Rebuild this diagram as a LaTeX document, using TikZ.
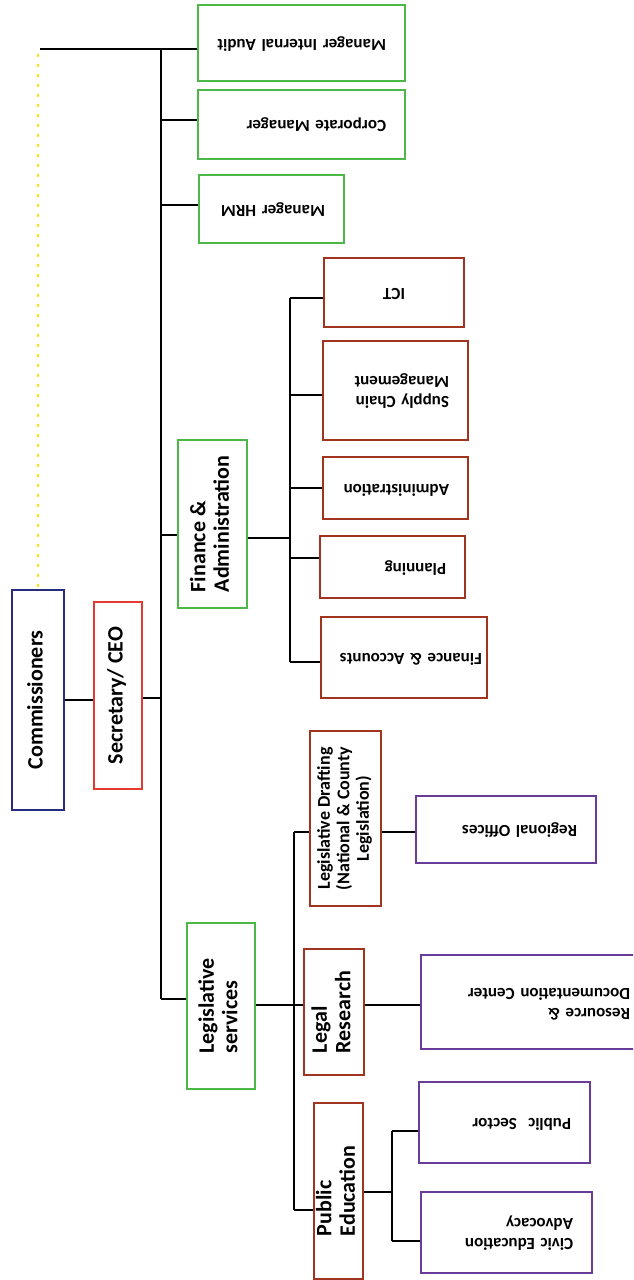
\documentclass[tikz,border=0pt]{standalone}
\usepackage{fontspec}
\setmainfont{Carlito}
\usepackage{graphicx}
\definecolor{cgreen}{RGB}{76,184,72}
\definecolor{cbrown}{RGB}{160,52,30}
\definecolor{cpurple}{RGB}{106,60,154}
\definecolor{cnavy}{RGB}{40,44,126}
\definecolor{cred}{RGB}{229,58,46}
\definecolor{cyellow}{RGB}{248,228,10}
\newcommand{\rtxt}[1]{\rotatebox{180}{\begin{tabular}{@{}l@{}}#1\end{tabular}}}
\newcommand{\ltxt}[1]{\rotatebox{90}{\begin{tabular}{@{}l@{}}#1\end{tabular}}}
\newcommand{\ctxt}[1]{\rotatebox{90}{\begin{tabular}{@{}c@{}}#1\end{tabular}}}
\tikzset{
  box/.style={draw, line width=1.8pt, fill=white, inner sep=0pt},
  lbox/.style={box, align=center, font=\bfseries\fontsize{22}{23.5}\selectfont},
  rbox/.style={box, inner xsep=19pt, align=right, font=\bfseries\fontsize{17}{20}\selectfont},
  conn/.style={line width=2pt, black},
}
\begin{document}
\begin{tikzpicture}[x=1pt,y=-1pt]
\useasboundingbox (0,0) rectangle (633,1280);
\clip (0,0) rectangle (633,1280);
\fill[white] (0,0) rectangle (633,1280);

% level 0/1
\node[lbox, draw=cnavy, minimum width=52pt, minimum height=220pt] (comm) at (38,700) {\ltxt{Commissioners}};
\node[lbox, draw=cred, minimum width=48pt, minimum height=187pt] (sec) at (118,695.5) {\ltxt{Secretary/ CEO}};

% top managers
\node[rbox, draw=cgreen, minimum width=207pt, minimum height=76pt, text width=169pt] (audit) at (301.5,43) {\rtxt{Manager Internal Audit}};
\node[rbox, draw=cgreen, minimum width=207pt, minimum height=69pt, text width=169pt] (corp) at (301.5,124.5) {\rtxt{Corporate Manager}};
\node[rbox, draw=cgreen, minimum width=145pt, minimum height=68pt, text width=107pt] (hrm) at (271.5,209) {\rtxt{Manager HRM}};

% finance & administration
\node[lbox, draw=cgreen, minimum width=69pt, minimum height=168pt] (fa) at (212.5,524) {\ltxt{Finance \&\\Administration}};
\node[rbox, draw=cbrown, minimum width=140pt, minimum height=69pt, text width=102pt, align=center] (ict) at (394,292.5) {\rtxt{ICT}};
\node[rbox, draw=cbrown, minimum width=145pt, minimum height=99pt, text width=107pt] (scm) at (395.5,390.5) {\rtxt{Supply Chain\\Management}};
\node[rbox, draw=cbrown, minimum width=145pt, minimum height=62pt, text width=107pt] (adm) at (395.5,488) {\rtxt{Administration}};
\node[rbox, draw=cbrown, minimum width=145pt, minimum height=62pt, text width=107pt] (plan) at (392.5,567) {\rtxt{Planning}};
\node[rbox, draw=cbrown, minimum width=166pt, minimum height=81pt, text width=128pt] (facc) at (404,657.5) {\rtxt{Finance \& Accounts}};

% legislative services
\node[lbox, draw=cgreen, minimum width=68pt, minimum height=166pt] (ls) at (221,1006) {\ltxt{Legislative\\services}};
\node[lbox, draw=cbrown, minimum width=71pt, minimum height=175pt, font=\bfseries\fontsize{18}{19.5}\selectfont] (ld) at (345.5,818.5) {\ctxt{Legislative Drafting\\(National \& County\\Legislation)}};
\node[lbox, draw=cbrown, minimum width=60pt, minimum height=126pt] (lr) at (334,1012) {\ltxt{Legal\\Research}};
\node[lbox, draw=cbrown, minimum width=49pt, minimum height=176pt] (pe) at (338.5,1191) {\ltxt{Public\\Education}};

\node[rbox, draw=cpurple, minimum width=180pt, minimum height=67pt, text width=142pt] (reg) at (506,829.5) {\rtxt{Regional Offices}};
\node[rbox, draw=cpurple, minimum width=228pt, minimum height=94pt, text width=190pt] (res) at (535,1002) {\rtxt{Resource \&\\Documentation Center}};
\node[rbox, draw=cpurple, minimum width=171pt, minimum height=81pt, text width=133pt] (ps) at (504.5,1122.5) {\rtxt{Public~~Sector}};
\node[rbox, draw=cpurple, minimum width=171pt, minimum height=81pt, text width=133pt] (civ) at (506.5,1232.5) {\rtxt{Civic Education\\Advocacy}};

% coordinates
\coordinate (ttop) at (161,49);
\coordinate (tbot) at (161,999);
\coordinate (ystart) at (40,49);
\coordinate (fav) at (290,0);
\coordinate (lsv) at (294,0);
\coordinate (pev) at (392,0);

% yellow dotted link
\draw[cyellow, line width=2.6pt, dash pattern=on 2.6pt off 7.4pt] (38,54) -- (comm.north -| 38,0);

% trunk
\draw[conn] (ystart) -- (audit.west |- ystart);
\draw[conn] (ttop) -- (tbot);
\draw[conn] (comm.east) -- (comm.east -| sec.west);
\draw[conn] ([yshift=-2.5pt]sec.east) -- ([yshift=-2.5pt]sec.east -| ttop);
\draw[conn] ([yshift=4.5pt]corp.west -| ttop) -- ([yshift=4.5pt]corp.west);
\draw[conn] ([yshift=4pt]hrm.west -| ttop) -- ([yshift=4pt]hrm.west);
\draw[conn] ([yshift=-11pt]fa.west -| ttop) -- ([yshift=-11pt]fa.west);
\draw[conn] (tbot) -- (tbot -| ls.west);

% finance & administration branch
\draw[conn] ([yshift=-14pt]fa.east) -- ([yshift=-14pt]fa.east -| fav);
\draw[conn] ([yshift=-5.5pt]ict.west -| fav) -- ([yshift=-4.5pt]facc.west -| fav);
\draw[conn] ([yshift=-5.5pt]ict.west -| fav) -- ([yshift=-5.5pt]ict.west);
\draw[conn] ([yshift=-4.5pt]scm.west -| fav) -- ([yshift=-4.5pt]scm.west);
\draw[conn] (adm.west -| fav) -- (adm.west);
\draw[conn] ([yshift=9pt]plan.west -| fav) -- ([yshift=9pt]plan.west);
\draw[conn] ([yshift=-4.5pt]facc.west -| fav) -- ([yshift=-4.5pt]facc.west);

% legislative services branch
\draw[conn] ([yshift=1pt]ls.east) -- ([yshift=1pt]ls.east -| lr.west);
\draw[conn] ([yshift=-13.5pt]ld.west -| lsv) -- ([yshift=-19pt]pe.west -| lsv);
\draw[conn] ([yshift=-13.5pt]ld.west -| lsv) -- ([yshift=-13.5pt]ld.west);
\draw[conn] ([yshift=-19pt]pe.west -| lsv) -- ([yshift=-19pt]pe.west);
\draw[conn] ([yshift=-13.5pt]ld.east) -- ([yshift=-13.5pt]ld.east -| reg.west);
\draw[conn] ([yshift=7pt]lr.east) -- ([yshift=7pt]lr.east -| res.west);
\draw[conn] ([yshift=-1pt]pe.east) -- ([yshift=-1pt]pe.east -| pev);
\draw[conn] ([yshift=-8.5pt]ps.west -| pev) -- ([yshift=-8.5pt]civ.west -| pev);
\draw[conn] ([yshift=-8.5pt]ps.west -| pev) -- ([yshift=-8.5pt]ps.west);
\draw[conn] ([yshift=-8.5pt]civ.west -| pev) -- ([yshift=-8.5pt]civ.west);
\end{tikzpicture}
\end{document}
